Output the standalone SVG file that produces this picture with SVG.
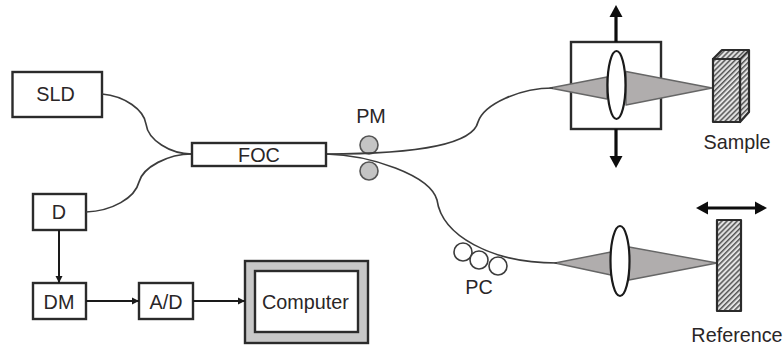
<svg xmlns="http://www.w3.org/2000/svg" width="783" height="349" viewBox="0 0 783 349">
<style>
text{font-family:"Liberation Sans",Arial,sans-serif;font-size:19.800px;fill:#2a2627;text-anchor:middle}
.box{fill:#fff;stroke:#2b2b2b;stroke-width:2.400}
.fiber{fill:none;stroke:#3c3c3c;stroke-width:1.700}
.cone{fill:#b0adad;stroke:#666;stroke-width:1.400;stroke-linejoin:round}
.lens{fill:#fff;stroke:#1a1a1a;stroke-width:2.200}
.hatch{fill:url(#h);stroke:#2b2b2b;stroke-width:2.200;stroke-linejoin:round}
.wire{fill:none;stroke:#1a1a1a;stroke-width:2}
.thick{fill:none;stroke:#0d0d0d;stroke-width:3.200}
.pm{fill:#c4c4c4;stroke:#555;stroke-width:1.600}
.pc{fill:#fff;stroke:#3c3c3c;stroke-width:1.600}
</style>
<defs>
<pattern id="h" width="3.600" height="3.600" patternUnits="userSpaceOnUse" patternTransform="rotate(-45)">
<rect width="3.600" height="3.600" fill="#e4e4e4"/><rect width="3.600" height="1.500" fill="#555"/>
</pattern>
<marker id="a" markerUnits="userSpaceOnUse" markerWidth="9" markerHeight="8" refX="7" refY="4" orient="auto"><path d="M0 .5L7 4L0 7.500Z" fill="#1a1a1a"/></marker>
<marker id="b" markerUnits="userSpaceOnUse" markerWidth="14" markerHeight="14" refX="7" refY="7" orient="auto-start-reverse"><path d="M0 0.500L12 7L0 13.500Z" fill="#0d0d0d"/></marker>
</defs>
<g id="optics-sample">
<rect id="stage" class="box" x="571" y="42" width="90" height="87"/>
<path class="cone" d="M550 88L607 77V99Z"/>
<path class="cone" d="M626 71.500L712 88L626 105Z"/>
<ellipse class="lens" cx="616.500" cy="85" rx="9" ry="34"/>
</g>
<g id="sample">
<path class="hatch" d="M713 59L722 50H749V112L740 122V59Z"/>
<rect class="hatch" x="713" y="59" width="27" height="63"/>
<path d="M740 59L749 50" stroke="#2b2b2b" stroke-width="1.500"/>
<text x="737" y="149">Sample</text>
</g>
<g id="optics-reference">
<path class="cone" d="M555 263L611 252V275Z"/>
<path class="cone" d="M629 247L717 263L629 280Z"/>
<ellipse class="lens" cx="620" cy="261" rx="9.500" ry="35"/>
</g>
<g id="reference">
<rect class="hatch" x="717" y="220" width="24" height="91"/>
<text x="737" y="342">Reference</text>
</g>
<g id="SLD"><rect class="box" x="12.500" y="72" width="89.500" height="45"/><text x="55.500" y="101">SLD</text></g>
<g id="D"><rect class="box" x="33" y="194" width="53" height="36"/><text x="59" y="219">D</text></g>
<g id="DM"><rect class="box" x="33" y="283" width="53" height="36"/><text x="59" y="309">DM</text></g>
<g id="AD"><rect class="box" x="139" y="283" width="54" height="36"/><text x="166" y="309">A/D</text></g>
<g id="Computer">
<rect x="245" y="261" width="123" height="82" fill="#c8c8c8" stroke="#2b2b2b" stroke-width="2.400"/>
<rect class="box" x="255" y="271" width="103" height="61"/>
<text x="305.500" y="309">Computer</text>
</g>
<g id="PM">
<circle class="pm" cx="369" cy="145" r="9"/><circle class="pm" cx="369" cy="171" r="9"/>
<text x="371" y="123">PM</text>
</g>
<g id="PC">
<circle class="pc" cx="463" cy="252" r="9"/><circle class="pc" cx="479" cy="260" r="9"/><circle class="pc" cx="498" cy="266" r="9"/>
<text x="479" y="294">PC</text>
</g>
<g id="connectors">
<path class="fiber" d="M102 94C125 96 144 110 146 124C148 140 170 154 192 154"/>
<path class="fiber" d="M86 212C112 211 135 198 139 182C143 167 168 154 192 154"/>
<path class="fiber" d="M326 154C400 154 472 148 478 122C484 104 520 88 553 88"/>
<path class="fiber" d="M326 154C370 155 430 175 437 200C442 235 490 263 557 263"/>
<path class="wire" d="M59 230V283" marker-end="url(#a)"/>
<path class="wire" d="M86 301H139" marker-end="url(#a)"/>
<path class="wire" d="M193 301H245" marker-end="url(#a)"/>
<path class="thick" d="M616 42V10" marker-end="url(#b)"/>
<path class="thick" d="M616 129V163" marker-end="url(#b)"/>
<path class="thick" d="M701 208H762" marker-start="url(#b)" marker-end="url(#b)"/>
</g>
<g id="FOC"><rect class="box" x="192" y="143" width="134" height="23"/><text x="259" y="162">FOC</text></g>
</svg>
